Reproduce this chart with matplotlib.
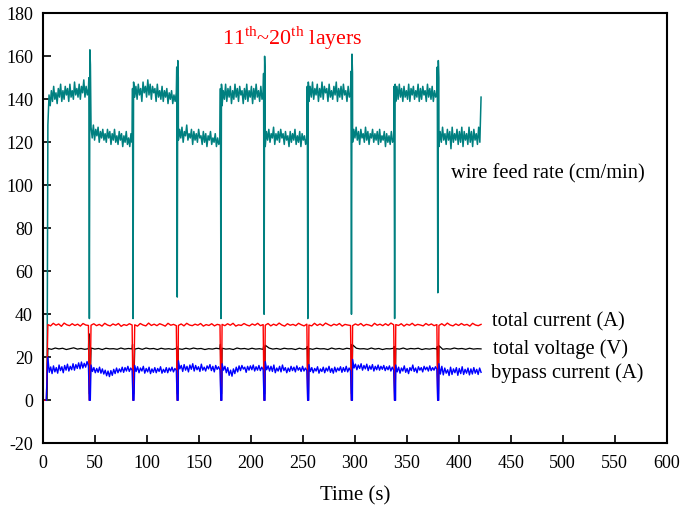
import numpy as np
import matplotlib
matplotlib.use("Agg")
import matplotlib.pyplot as plt

plt.rcParams['font.family'] = ['Liberation Serif', 'DejaVu Serif']
plt.rcParams['mathtext.fontset'] = 'custom'
plt.rcParams['mathtext.rm'] = 'Liberation Serif'
plt.rcParams['axes.unicode_minus'] = False

# layer timing (s)
layer_start = [5, 46.5, 88.5, 130.5, 172.5, 214, 256, 298, 339.5, 381]
layer_end = [44, 86, 128.5, 170.5, 212, 254, 296, 337.5, 379, 421.5]
dips = [45, 87, 129.5, 171.5, 213, 255, 297, 338.5, 380]

# wire feed rate (cm/min) read per layer
feed_layers = [
    [128, 142, 137, 144, 139, 146, 140, 143, 138, 145, 141, 147, 139, 144, 140, 146, 142, 145, 139, 147, 141, 144, 140, 148, 142, 145, 141, 147, 140, 146, 143, 149, 141, 146, 142, 145],
    [127, 122, 128, 121, 126, 123, 127, 120, 125, 122, 126, 121, 124, 120, 126, 122, 125, 119, 124, 121, 126, 120, 123, 119, 125, 121, 124, 118, 123, 120, 125, 119, 122, 118, 124, 120],
    [141, 146, 140, 147, 142, 145, 139, 148, 143, 146, 141, 149, 142, 147, 140, 146, 143, 145, 139, 147, 141, 144, 140, 146, 139, 144, 141, 145, 138, 143, 140, 144, 138, 142, 139, 143],
    [121, 126, 122, 127, 120, 125, 123, 128, 121, 124, 122, 126, 119, 125, 121, 124, 120, 126, 122, 123, 119, 125, 120, 124, 118, 123, 121, 125, 119, 122, 120, 124, 118, 122, 119, 121],
    [137, 144, 140, 147, 139, 145, 141, 146, 138, 144, 140, 147, 141, 145, 139, 146, 142, 144, 138, 145, 140, 147, 139, 144, 141, 146, 138, 145, 140, 147, 141, 144, 139, 146, 140, 143],
    [118, 125, 121, 126, 120, 124, 122, 127, 119, 124, 121, 125, 120, 126, 122, 124, 119, 125, 121, 123, 118, 125, 120, 124, 121, 126, 119, 123, 120, 125, 118, 124, 121, 123, 119, 122],
    [139, 146, 141, 148, 140, 145, 142, 147, 139, 145, 141, 148, 140, 146, 143, 145, 139, 147, 141, 144, 140, 146, 142, 148, 139, 145, 141, 146, 140, 147, 142, 144, 139, 146, 141, 143],
    [120, 126, 122, 127, 121, 125, 119, 126, 122, 124, 120, 127, 121, 125, 119, 124, 122, 126, 120, 124, 121, 125, 119, 126, 120, 123, 121, 125, 118, 124, 120, 123, 119, 125, 120, 122],
    [139, 146, 140, 147, 141, 145, 139, 146, 141, 144, 140, 147, 139, 145, 142, 146, 140, 144, 141, 147, 139, 145, 140, 146, 142, 144, 139, 147, 141, 145, 140, 146, 139, 144, 141, 143],
    [118, 125, 120, 127, 121, 124, 119, 126, 121, 125, 117, 127, 120, 124, 121, 126, 119, 125, 120, 127, 118, 125, 121, 124, 119, 127, 120, 125, 118, 126, 121, 124, 119, 127, 120, 141],
]
# feed spikes at each layer change
feed_trans = [
    [150, 38, 163, 156],
    [145, 38, 148, 146],
    [155, 48, 158, 150],
    [145, 38, 147, 144],
    [152, 40, 160, 150],
    [146, 38, 148, 145],
    [153, 40, 161, 152],
    [146, 38, 147, 144],
    [155, 50, 158, 150],
]

# total current (A)
current_layers = [
    [35.2, 34.6, 35.8, 34.9, 35.5, 34.4, 35.9, 35.1, 34.7, 35.6, 34.8, 35.4, 34.5, 35.7, 35.0, 34.8],
    [34.9, 35.6, 34.7, 35.3, 34.5, 35.8, 35.0, 34.6, 35.5, 34.9, 35.7, 34.4, 35.2, 34.8, 35.6, 35.0],
    [35.1, 34.5, 35.7, 35.0, 34.6, 35.9, 34.8, 35.4, 34.7, 35.6, 35.1, 34.5, 35.8, 34.9, 35.3, 34.7],
    [34.8, 35.5, 34.6, 35.8, 35.0, 34.7, 35.4, 34.9, 35.7, 34.5, 35.2, 34.8, 35.6, 34.6, 35.3, 35.0],
    [35.3, 34.7, 35.6, 34.9, 35.8, 34.5, 35.1, 34.8, 35.7, 35.0, 34.6, 35.5, 34.9, 35.8, 34.7, 35.2],
    [34.9, 35.7, 34.6, 35.4, 34.8, 35.9, 35.0, 34.5, 35.6, 34.9, 35.3, 34.7, 35.8, 35.1, 34.6, 35.4],
    [35.0, 34.6, 35.8, 34.8, 35.5, 34.7, 35.9, 35.2, 34.6, 35.4, 34.9, 35.7, 34.5, 35.3, 35.0, 34.8],
    [34.7, 35.5, 34.9, 35.7, 34.6, 35.3, 35.0, 34.5, 35.8, 34.9, 35.4, 34.7, 35.6, 34.8, 35.9, 35.1],
    [35.2, 34.8, 35.6, 34.5, 35.4, 34.9, 35.8, 34.7, 35.3, 35.0, 34.6, 35.7, 34.9, 35.5, 34.7, 35.2],
    [34.8, 35.6, 34.7, 35.9, 35.0, 34.6, 35.5, 34.8, 35.7, 34.9, 35.3, 34.5, 35.8, 35.0, 34.7, 35.3],
]

# total voltage (V)
voltage_layers = [
    [24.1, 23.7, 24.3, 23.9, 24.2, 23.6, 24.0, 24.4, 23.8, 24.1, 23.7, 24.0],
    [24.3, 23.8, 24.1, 23.6, 24.2, 23.9, 24.0, 23.7, 24.3, 23.8, 24.1, 23.9],
    [23.8, 24.2, 23.7, 24.3, 23.9, 24.1, 23.6, 24.2, 23.8, 24.0, 23.7, 24.1],
    [24.0, 23.7, 24.2, 23.8, 24.3, 23.9, 24.1, 23.6, 24.0, 23.8, 24.2, 23.9],
    [24.2, 23.8, 24.0, 23.6, 24.3, 23.9, 24.1, 23.7, 24.2, 23.8, 24.0, 23.7],
    [25.6, 24.3, 23.8, 24.1, 23.7, 24.2, 23.9, 24.0, 23.6, 24.2, 23.8, 24.1],
    [24.1, 23.7, 24.2, 23.9, 24.0, 23.6, 24.3, 23.8, 24.1, 23.7, 24.2, 23.9],
    [25.8, 24.2, 23.9, 24.0, 23.7, 24.3, 23.8, 24.1, 23.6, 24.0, 23.9, 24.2],
    [24.0, 23.8, 24.3, 23.7, 24.1, 23.9, 24.2, 23.6, 24.0, 23.8, 24.1, 23.9],
    [25.4, 23.7, 24.0, 23.8, 24.3, 23.9, 24.1, 23.7, 24.2, 23.8, 24.0, 23.9],
]
volt_spike = [31, 26, 25, 26, 25, 25, 26, 25, 25]

# bypass current (A)
bypass_layers = [
    [20.0, 13.0, 15.5, 12.4, 16.0, 13.2, 15.2, 12.6, 16.4, 13.8, 15.6, 12.8, 16.2, 14.0, 16.8, 13.6, 15.8, 14.2, 17.0, 14.0, 16.6, 14.8, 17.4, 14.6, 17.8, 15.0, 17.2, 15.4, 18.0, 16.0],
    [16.4, 13.4, 15.2, 12.8, 14.8, 13.0, 15.4, 12.6, 14.6, 12.2, 14.0, 11.4, 13.6, 11.0, 13.8, 11.6, 14.4, 12.4, 15.0, 12.8, 14.6, 13.2, 15.4, 13.0, 15.2, 13.6, 15.8, 13.4, 15.0, 14.0],
    [16.2, 13.4, 15.6, 12.8, 15.0, 13.6, 15.8, 12.6, 14.8, 13.2, 15.4, 12.4, 14.6, 13.0, 15.2, 12.8, 14.8, 13.4, 15.6, 12.6, 14.4, 13.0, 15.2, 12.8, 15.0, 13.6, 15.4, 13.2, 14.8, 13.8],
    [18.4, 14.6, 16.2, 13.4, 16.6, 14.0, 15.8, 13.2, 16.4, 14.4, 17.0, 13.6, 16.2, 14.2, 15.6, 13.4, 16.8, 14.0, 15.4, 13.6, 16.0, 14.6, 16.6, 13.8, 15.8, 13.2, 16.2, 14.4, 15.6, 14.0],
    [17.0, 14.0, 15.8, 12.8, 15.2, 11.6, 14.0, 11.2, 14.6, 12.4, 15.4, 13.2, 16.0, 13.8, 16.2, 14.5, 15.4, 13.0, 15.8, 14.0, 16.0, 14.2, 16.4, 13.6, 15.6, 14.0, 16.2, 13.8, 15.4, 14.2],
    [18.0, 14.2, 16.0, 13.6, 15.8, 13.4, 16.4, 12.8, 15.0, 13.6, 15.8, 13.2, 16.4, 13.8, 15.2, 12.8, 15.0, 13.4, 15.8, 13.8, 15.4, 13.2, 16.0, 14.0, 15.2, 13.4, 15.8, 13.6, 15.0, 13.8],
    [16.6, 13.4, 15.2, 12.8, 14.8, 13.6, 15.6, 12.6, 14.6, 13.4, 15.4, 12.8, 15.0, 13.6, 15.8, 13.0, 14.8, 12.6, 15.4, 13.2, 15.0, 13.8, 15.6, 13.0, 15.2, 13.4, 15.8, 13.2, 15.0, 13.6],
    [19.0, 15.0, 16.8, 14.2, 16.4, 14.8, 17.0, 14.0, 16.2, 14.6, 16.8, 13.8, 16.0, 14.4, 16.6, 13.6, 15.8, 14.2, 16.4, 14.0, 15.8, 14.4, 16.2, 13.8, 15.6, 14.2, 16.0, 13.6, 15.4, 14.0],
    [16.4, 13.2, 15.4, 12.6, 15.0, 13.6, 16.0, 13.0, 14.8, 12.4, 15.2, 13.8, 16.4, 13.4, 15.0, 12.8, 15.6, 14.0, 15.2, 13.2, 15.8, 14.2, 15.4, 13.6, 16.0, 13.8, 15.2, 14.0, 15.6, 14.4],
    [17.0, 12.2, 15.8, 11.8, 15.0, 12.6, 14.2, 11.5, 15.4, 12.0, 14.6, 12.8, 15.2, 11.6, 14.8, 12.4, 15.6, 12.0, 14.4, 12.6, 15.0, 11.8, 14.6, 12.2, 15.2, 12.6, 14.4, 12.0, 15.0, 13.0],
]


def build(layers, trans, offsets, lead):
    t = list(lead[0])
    v = list(lead[1])
    for i, vals in enumerate(layers):
        t += list(np.linspace(layer_start[i], layer_end[i], len(vals)))
        v += vals
        if i < len(dips):
            tv = trans[i]
            t += [dips[i] + o for o in offsets[:len(tv)]]
            v += tv
    return np.array(t), np.array(v)


feed_t, feed_v = build(feed_layers, feed_trans, [-0.6, -0.1, 0.4, 0.9], ([4.2], [0]))
cur_t, cur_v = build(current_layers, [[0, 0]] * len(dips), [-0.2, 0.4], ([0, 3.6], [0, 0]))
volt_t, volt_v = build(voltage_layers, [[s, 3, 3] for s in volt_spike], [-0.6, -0.1, 0.5], ([3.9], [0]))
byp_t, byp_v = build(bypass_layers, [[0, 0]] * len(dips), [-0.2, 0.8], ([3.4], [0]))

fig = plt.figure(figsize=(6.85, 5.08), dpi=100)
ax = fig.add_axes([0.0623, 0.1274, 0.911, 0.8465])

ax.plot(feed_t, feed_v, color='#008080', lw=1.1)
ax.plot(volt_t, volt_v, color='black', lw=0.9)
ax.plot(cur_t, cur_v, color='#FF0000', lw=1.0)
ax.plot(byp_t, byp_v, color='#0000FF', lw=1.0)

ax.text(172.4, 168.4, r'11$^{\mathrm{th}}$~20$^{\mathrm{th}}$ layers', color='#FF0000', fontsize=15.8, va='center')
ax.text(393, 105.5, 'wire feed rate (cm/min)', fontsize=14.8, va='center')
ax.text(431.6, 36.4, 'total current (A)', fontsize=14.8, va='center')
ax.text(432.6, 24.0, 'total voltage (V)', fontsize=14.8, va='center')
ax.text(430.7, 12.4, 'bypass current (A)', fontsize=14.8, va='center')

ax.set_xlim(0, 600)
ax.set_ylim(-20, 180)
ax.set_xticks(np.arange(0, 601, 50))
ax.set_yticks(np.arange(-20, 181, 20))
ax.tick_params(direction='in', length=6, width=1.2, labelsize=13, top=False, right=False)
ax.tick_params(axis='x', pad=8.5)
ax.tick_params(axis='y', pad=7)
for s in ax.spines.values():
    s.set_linewidth(1.5)
ax.set_xlabel('Time (s)', fontsize=15, labelpad=10.5)

fig.savefig('out.png', dpi=100)
